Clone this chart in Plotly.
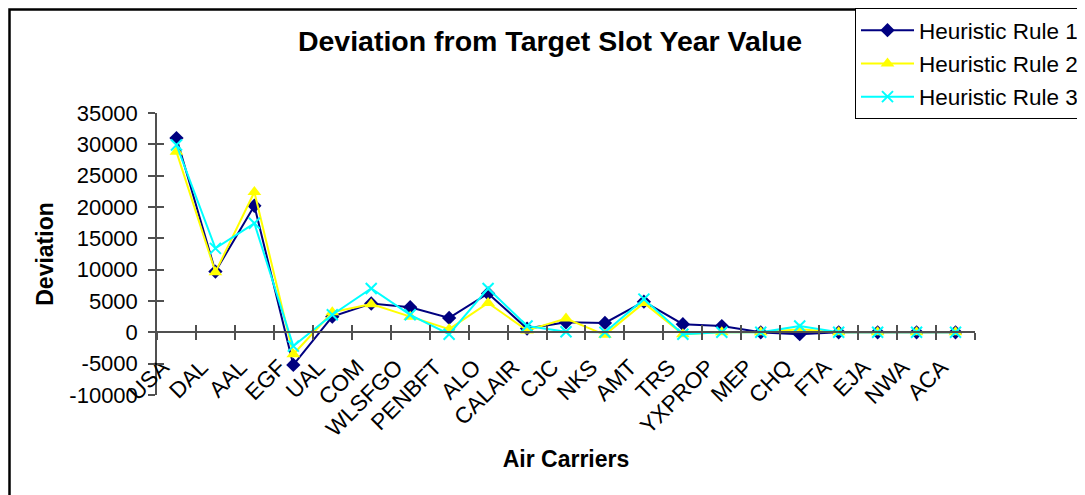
import plotly.graph_objects as go

categories = ["USA", "DAL", "AAL", "EGF", "UAL", "COM", "WLSFGO", "PENBFT", "ALO",
              "CALAIR", "CJC", "NKS", "AMT", "TRS", "YXPROP", "MEP", "CHQ", "FTA",
              "EJA", "NWA", "ACA"]
rule1 = [31000, 9700, 20200, -5200, 2500, 4600, 4000, 2300, 6200, 600, 1600, 1500,
         4900, 1300, 1000, 0, -300, 0, 0, 0, 0]
rule2 = [28800, 9600, 22400, -3500, 3200, 4500, 2500, 500, 4700, 300, 2200, -400,
         4700, -300, 0, 0, 500, 0, 0, 0, 0]
rule3 = [29900, 13400, 17400, -2200, 2800, 7000, 2800, -300, 7000, 1000, 100, 0,
         5300, -300, 0, 0, 1000, 0, 0, 0, 0]
series_names = ["Heuristic Rule 1", "Heuristic Rule 2", "Heuristic Rule 3"]
y_ticks = [-10000, -5000, 0, 5000, 10000, 15000, 20000, 25000, 30000, 35000]
y_tick_text = [str(v) for v in y_ticks]

FONT = "Arial, Liberation Sans, sans-serif"
y_min, y_max = -10000, 35000

fig = go.Figure()
fig.add_trace(go.Scatter(x=categories, y=rule1, name=series_names[0], mode="lines+markers",
                         legendgroup="g1",
                         line=dict(color="#000080", width=2),
                         marker=dict(symbol="diamond", size=11, color="#000080")))
fig.add_trace(go.Scatter(x=categories, y=rule2, name=series_names[1], mode="lines+markers",
                         legendgroup="g2",
                         line=dict(color="#FFFF00", width=2),
                         marker=dict(symbol="triangle-up", size=12, color="#FFFF00")))
fig.add_trace(go.Scatter(x=categories, y=rule3, name=series_names[2], mode="lines+markers",
                         legendgroup="g3",
                         line=dict(color="#00FFFF", width=2),
                         marker=dict(symbol="x-thin", size=11, color="#00FFFF",
                                     line=dict(color="#00FFFF", width=2))))
# invisible helper trace for crossing tick marks
fig.add_trace(go.Scatter(x=[0], y=[0], xaxis="x2", yaxis="y2", mode="markers",
                         marker=dict(opacity=0), showlegend=False, hoverinfo="skip"))

n = len(categories)
zero_pos = (0 - y_min) / (y_max - y_min)
axis_col = "#505050"

# page body has an 8px offset; figure coordinates = screen - 8
OFF = 8
L, R, T, B = 157 - OFF, 1085 - (975 - OFF), 113 - OFF, 495 - (395 - OFF)
PW, PH = 1085 - L - R, 495 - T - B


def px_x(sx):
    return (sx - OFF - L) / PW


def px_y(sy):
    return (495 - B - (sy - OFF)) / PH


fig.update_layout(
    width=1085, height=495,
    margin=dict(l=L, r=R, t=T, b=B, autoexpand=False),
    paper_bgcolor="white", plot_bgcolor="white",
    font=dict(family=FONT, color="black"),
    title=dict(text="<b>Deviation from Target Slot Year Value</b>",
               font=dict(size=28.5, family=FONT, color="black"),
               x=(550 - OFF) / 1085, xanchor="center", y=1 - (41 - OFF) / 495,
               yanchor="middle"),
    xaxis=dict(type="category", categoryorder="array", categoryarray=categories,
               range=[-0.5, n - 0.5], anchor="free", position=zero_pos,
               automargin=False,
               showline=True, linecolor=axis_col, linewidth=1.5,
               ticks="outside", tickson="boundaries", ticklen=7, tickcolor=axis_col,
               tickwidth=1.5, tickangle=-45, tickfont=dict(size=22.5, family=FONT),
               ticklabelshift=-14, ticklabelstandoff=12,
               showgrid=False, zeroline=False,
               title=dict(text="<b>Air Carriers</b>", font=dict(size=23, family=FONT),
                          standoff=10)),
    xaxis2=dict(overlaying="x", anchor="free", position=zero_pos, range=[-0.5, n - 0.5],
                tickmode="array", tickvals=[i - 0.5 for i in range(n + 1)],
                ticks="inside", ticklen=7, tickcolor=axis_col, tickwidth=1.5,
                showticklabels=False, showline=False, showgrid=False, zeroline=False),
    yaxis=dict(range=[y_min, y_max], tickmode="array", tickvals=y_ticks,
               ticktext=y_tick_text, automargin=False, showline=True,
               linecolor=axis_col, linewidth=1.5, ticks="outside", ticklen=7,
               tickcolor=axis_col, tickwidth=1.5, tickfont=dict(size=22, family=FONT),
               ticklabelstandoff=6,
               showgrid=False, zeroline=False,
               title=dict(text="<b>Deviation</b>", font=dict(size=23, family=FONT),
                          standoff=9)),
    yaxis2=dict(overlaying="y", anchor="x", side="left", range=[y_min, y_max],
                tickvals=y_ticks, ticks="inside", ticklen=7, tickcolor=axis_col,
                tickwidth=1.5, showticklabels=False, showline=False, showgrid=False,
                zeroline=False),
    legend=dict(x=px_x(855), xanchor="left", y=px_y(8), yanchor="top",
                bordercolor="black", borderwidth=1, bgcolor="white",
                font=dict(size=22.5, family=FONT), traceorder="grouped",
                tracegroupgap=1, itemwidth=53),
    showlegend=True,
)

# outer chart frame
fig.add_shape(type="rect", xref="paper", yref="paper",
              x0=px_x(9.5), x1=px_x(1110),
              y0=px_y(520), y1=px_y(9.5),
              line=dict(color="black", width=2.5), fillcolor="rgba(0,0,0,0)",
              layer="below")

fig.write_html("out.html")
